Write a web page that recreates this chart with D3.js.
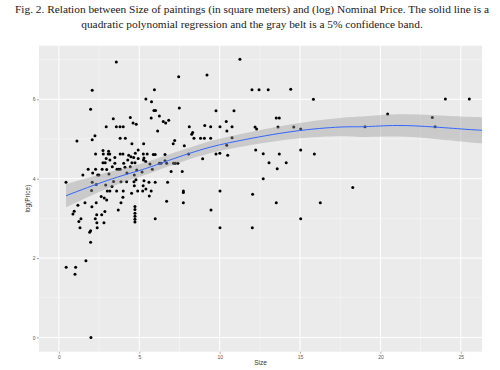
<!DOCTYPE html>
<html>
<head>
<meta charset="utf-8">
<script src="https://cdn.jsdelivr.net/npm/d3@7"></script>
<style>
  body { margin: 0; background: #fff; }
  svg { display: block; }
</style>
</head>
<body>
<script>
// Size of painting (square meters) and log(Price) for each sale.
var sizes = [
  3.57, 2.07, 1.97, 11.26, 7.45, 9.21, 12.01, 12.45, 13.02, 14.42, 15.83, 5.94, 5.41, 5.76, 5.91, 6.01,
  7.49, 9.77, 10.89, 6.25, 5.74, 6.49, 6.64, 6.83, 6.14, 3.38, 4.44, 4.61, 4.81, 2.94, 3.57, 3.80,
  4.00, 3.81, 4.13, 1.12, 2.07, 2.24, 4.54, 5.27, 4.93, 2.74, 3.09, 3.16, 2.28, 2.76, 3.07, 3.81,
  3.98, 4.34, 4.48, 4.75, 2.94, 3.17, 3.48, 4.28, 4.65, 4.93, 2.74, 2.88, 3.48, 4.03, 4.54, 4.73,
  5.26, 2.28, 1.82, 2.69, 2.97, 3.61, 3.72, 3.81, 3.32, 4.11, 4.44, 4.84, 2.10, 2.41, 2.49, 1.49,
  3.11, 4.23, 4.69, 5.17, 0.44, 2.07, 3.40, 3.86, 4.21, 4.67, 4.79, 2.32, 2.03, 2.91, 3.30, 4.69,
  5.24, 3.01, 3.17, 3.59, 4.00, 4.52, 4.90, 5.21, 2.63, 2.82, 2.97, 3.98, 1.18, 1.62, 2.05, 2.32,
  3.86, 0.95, 0.87, 2.35, 2.66, 2.86, 3.69, 4.73, 4.73, 4.73, 4.73, 4.73, 4.73, 1.37, 1.24, 2.26,
  2.36, 2.80, 1.31, 2.38, 1.97, 1.91, 1.97, 1.68, 0.45, 1.04, 1.00, 1.99, 5.99, 6.70, 7.20, 7.11,
  7.80, 8.11, 8.26, 8.32, 8.40, 8.81, 9.05, 9.44, 9.07, 9.44, 10.02, 10.41, 10.77, 10.45, 10.77, 5.25,
  5.49, 5.87, 5.99, 6.60, 5.29, 5.40, 5.66, 5.81, 6.25, 6.35, 6.60, 6.70, 7.13, 7.24, 7.40, 8.07,
  8.94, 9.77, 10.01, 10.50, 6.98, 7.67, 5.29, 5.60, 5.99, 6.76, 5.41, 5.74, 5.62, 7.74, 7.74, 7.74,
  10.02, 9.46, 10.02, 10.44, 12.20, 12.30, 13.52, 13.71, 13.63, 14.61, 15.04, 12.24, 12.71, 13.71, 15.04, 15.89,
  13.07, 13.58, 14.14, 12.71, 12.05, 12.03, 13.52, 15.04, 16.26, 24.04, 25.53, 20.45, 23.23, 19.04, 23.40, 18.28
];
var logPrices = [
  6.94, 6.23, 5.75, 7.01, 6.57, 6.61, 6.24, 6.24, 6.24, 6.25, 6.00, 6.24, 6.01, 5.94, 5.72, 5.72,
  5.78, 5.71, 5.71, 5.58, 5.53, 5.44, 5.40, 5.47, 5.20, 5.51, 5.54, 5.40, 5.37, 5.31, 5.31, 5.31,
  5.31, 5.02, 5.02, 4.95, 4.98, 5.08, 4.88, 4.88, 4.72, 4.71, 4.69, 4.62, 4.62, 4.62, 4.62, 4.62,
  4.62, 4.59, 4.55, 4.64, 4.51, 4.47, 4.53, 4.47, 4.53, 4.51, 4.40, 4.40, 4.39, 4.39, 4.40, 4.40,
  4.47, 4.24, 4.24, 4.24, 4.23, 4.24, 4.24, 4.24, 4.30, 4.29, 4.30, 4.22, 4.14, 4.09, 4.09, 4.09,
  4.12, 4.14, 4.09, 4.17, 3.91, 3.91, 3.93, 3.92, 3.92, 3.92, 3.97, 3.85, 3.70, 3.84, 3.80, 3.82,
  3.82, 3.69, 3.69, 3.69, 3.69, 3.63, 3.69, 3.69, 3.55, 3.51, 3.46, 3.53, 3.33, 3.39, 3.29, 3.39,
  3.39, 3.18, 3.11, 3.09, 3.09, 3.17, 3.21, 3.30, 3.22, 3.13, 3.05, 2.98, 2.91, 2.99, 2.92, 2.99,
  2.89, 2.89, 2.76, 2.76, 2.69, 2.65, 2.40, 1.93, 1.77, 1.77, 1.59, 0.00, 2.99, 3.43, 4.96, 4.88,
  4.83, 5.31, 5.12, 5.16, 5.02, 5.02, 5.02, 5.02, 5.34, 5.31, 5.31, 5.44, 5.31, 5.20, 5.03, 4.62,
  4.62, 4.61, 4.61, 4.61, 4.52, 4.43, 4.37, 4.24, 4.39, 4.39, 4.45, 4.39, 4.39, 4.39, 4.39, 4.62,
  4.50, 4.62, 4.64, 4.59, 4.18, 4.18, 3.95, 3.91, 3.91, 3.91, 3.74, 3.69, 3.56, 3.69, 3.65, 3.39,
  3.69, 3.21, 2.76, 4.84, 5.30, 5.25, 5.53, 5.53, 5.30, 5.30, 5.25, 4.72, 4.63, 4.62, 4.72, 4.62,
  4.40, 4.25, 4.40, 4.00, 3.61, 2.76, 3.39, 2.99, 3.39, 6.01, 6.01, 5.63, 5.54, 5.31, 5.31, 3.78
];

// Quadratic fit and its confidence band.
var fitSizes = [0.44, 3.05, 5.04, 6.28, 8.77, 11.26, 14.56, 17.49, 19.04, 21.03, 23.40, 25.45, 26.32];
var fitValues = [3.57, 3.96, 4.21, 4.38, 4.72, 4.96, 5.19, 5.30, 5.31, 5.34, 5.30, 5.24, 5.22];
var bandLow = [3.28, 3.76, 4.05, 4.23, 4.57, 4.80, 5.00, 5.07, 5.05, 5.06, 5.00, 4.92, 4.89];
var bandHigh = [3.86, 4.16, 4.37, 4.53, 4.87, 5.12, 5.38, 5.53, 5.57, 5.62, 5.60, 5.56, 5.55];

var xTicks = [0, 5, 10, 15, 20, 25];
var yTicks = [0, 2, 4, 6];
var xMinor = [2.5, 7.5, 12.5, 17.5, 22.5];
var yMinor = [1, 3, 5, 7];

var titleLines = [
  'Fig. 2. Relation between Size of paintings (in square meters) and (log) Nominal Price. The solid line is a',
  'quadratic polynomial regression and the gray belt is a 5% confidence band.'
];

var width = 500, height = 370;
var panel = { left: 39, right: 482, top: 45.7, bottom: 351.7 };

var svg = d3.select('body').append('svg')
    .attr('width', width)
    .attr('height', height)
    .attr('xmlns', 'http://www.w3.org/2000/svg');

// caption above the plot
svg.selectAll('text.title')
  .data(titleLines)
  .enter().append('text')
    .attr('class', 'title')
    .attr('x', 252)
    .attr('y', function(d, i) { return 12.5 + i * 15; })
    .attr('text-anchor', 'middle')
    .attr('font-family', 'Liberation Serif, Times New Roman, serif')
    .attr('font-size', 11.35)
    .attr('fill', '#1a1a1a')
    .text(function(d) { return d; });

var x = d3.scaleLinear().domain([-1.24, 26.32]).range([panel.left, panel.right]);
var y = d3.scaleLinear().domain([-0.36, 7.35]).range([panel.bottom, panel.top]);

svg.append('rect')
    .attr('x', panel.left)
    .attr('y', panel.top)
    .attr('width', panel.right - panel.left)
    .attr('height', panel.bottom - panel.top)
    .attr('fill', '#EBEBEB');

var grid = svg.append('g');

grid.selectAll('line.xminor').data(xMinor).enter().append('line')
    .attr('x1', x).attr('x2', x)
    .attr('y1', panel.top).attr('y2', panel.bottom)
    .attr('stroke', '#fff').attr('stroke-width', 0.5).attr('opacity', 0.8);
grid.selectAll('line.yminor').data(yMinor).enter().append('line')
    .attr('y1', y).attr('y2', y)
    .attr('x1', panel.left).attr('x2', panel.right)
    .attr('stroke', '#fff').attr('stroke-width', 0.5).attr('opacity', 0.8);
grid.selectAll('line.xmajor').data(xTicks).enter().append('line')
    .attr('x1', x).attr('x2', x)
    .attr('y1', panel.top).attr('y2', panel.bottom)
    .attr('stroke', '#fff').attr('stroke-width', 1);
grid.selectAll('line.ymajor').data(yTicks).enter().append('line')
    .attr('y1', y).attr('y2', y)
    .attr('x1', panel.left).attr('x2', panel.right)
    .attr('stroke', '#fff').attr('stroke-width', 1);

// points first, the smoother goes on top (ggplot layer order)
svg.append('g').selectAll('circle')
  .data(sizes.map(function(s, i) { return { size: s, price: logPrices[i] }; }))
  .enter().append('circle')
    .attr('cx', function(d) { return x(d.size); })
    .attr('cy', function(d) { return y(d.price); })
    .attr('r', 1.5)
    .attr('fill', '#000');

var fit = fitSizes.map(function(s, i) {
    return { size: s, value: fitValues[i], low: bandLow[i], high: bandHigh[i] };
});

svg.append('path')
    .datum(fit)
    .attr('fill', '#999999')
    .attr('fill-opacity', 0.4)
    .attr('d', d3.area()
      .curve(d3.curveNatural)
      .x(function(d) { return x(d.size); })
      .y0(function(d) { return y(d.low); })
      .y1(function(d) { return y(d.high); }));

svg.append('path')
    .datum(fit)
    .attr('fill', 'none')
    .attr('stroke', '#3366FF')
    .attr('stroke-width', 1)
    .attr('d', d3.line()
      .curve(d3.curveNatural)
      .x(function(d) { return x(d.size); })
      .y(function(d) { return y(d.value); }));

// axes: tiny ggplot-style ticks and labels
var xAxis = svg.append('g')
    .attr('transform', 'translate(0,' + panel.bottom + ')')
    .call(d3.axisBottom(x).tickValues(xTicks).tickSize(2).tickPadding(1.5));
var yAxis = svg.append('g')
    .attr('transform', 'translate(' + panel.left + ',0)')
    .call(d3.axisLeft(y).tickValues(yTicks).tickSize(2).tickPadding(1.5));

[xAxis, yAxis].forEach(function(axis) {
    axis.select('.domain').remove();
    axis.selectAll('.tick line').attr('stroke', '#555').attr('stroke-width', 0.5);
    axis.selectAll('.tick text')
      .attr('fill', '#555')
      .attr('font-size', 5)
      .attr('font-family', 'Liberation Sans, Arial, sans-serif');
});

svg.append('text')
    .attr('x', (panel.left + panel.right) / 2)
    .attr('y', 365)
    .attr('text-anchor', 'middle')
    .attr('font-family', 'Liberation Sans, Arial, sans-serif')
    .attr('font-size', 6.5)
    .attr('fill', '#333')
    .text('Size');

svg.append('text')
    .attr('transform', 'translate(30,' + ((panel.top + panel.bottom) / 2) + ') rotate(-90)')
    .attr('text-anchor', 'middle')
    .attr('font-family', 'Liberation Sans, Arial, sans-serif')
    .attr('font-size', 6.5)
    .attr('fill', '#333')
    .text('log(Price)');
</script>
</body>
</html>
